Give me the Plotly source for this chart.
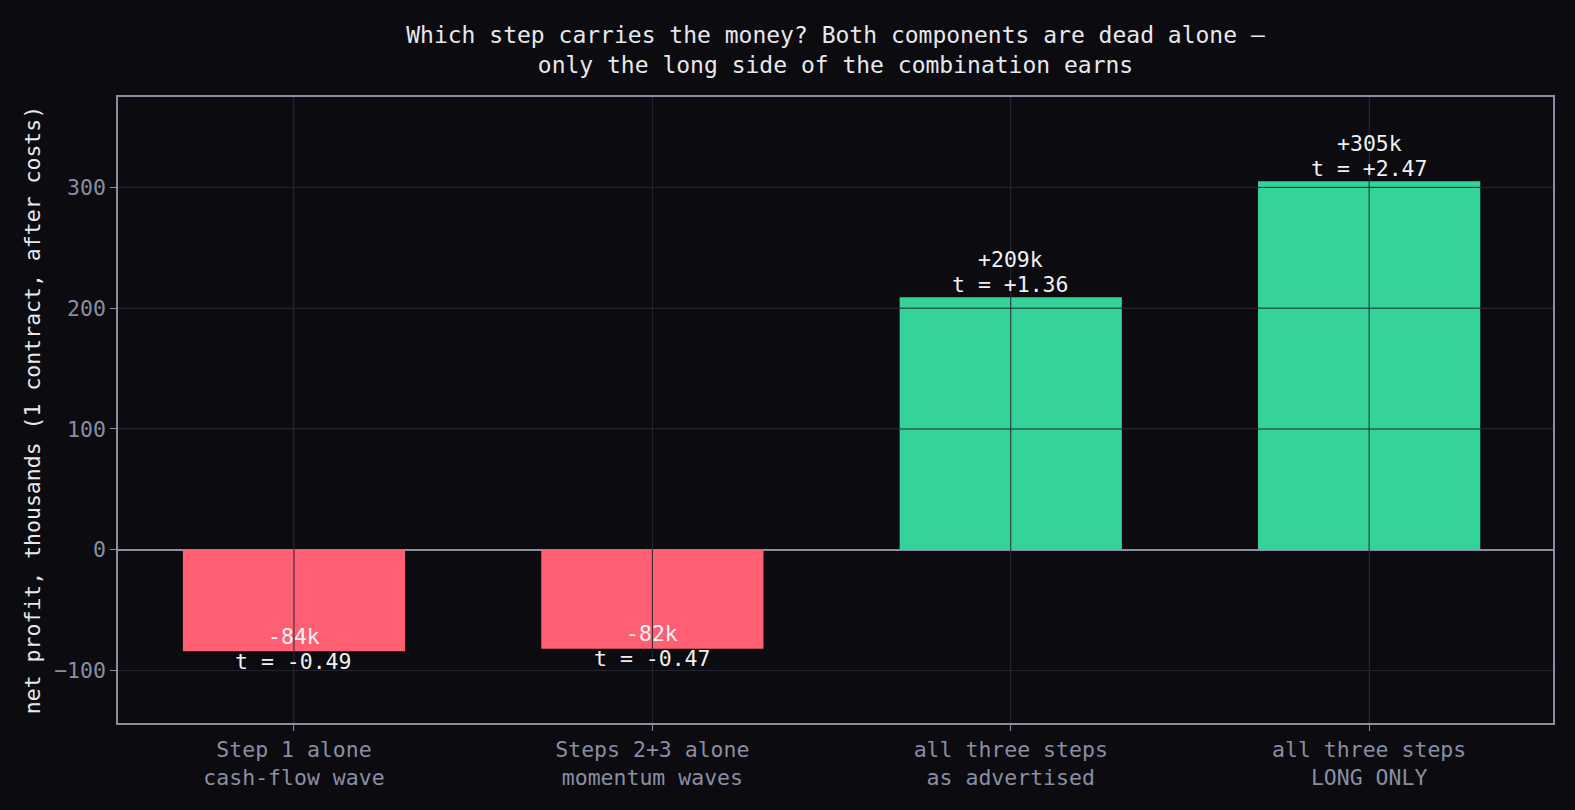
import plotly.graph_objects as go

# bar categories (two-line tick labels)
categories = [
    "Step 1 alone<br>cash-flow wave",
    "Steps 2+3 alone<br>momentum waves",
    "all three steps<br>as advertised",
    "all three steps<br>LONG ONLY",
]
net_profit_k = [-84, -82, 209, 305]
t_stats = [-0.49, -0.47, 1.36, 2.47]
y_ticks = [-100, 0, 100, 200, 300]

BG = "#0b0b10"
AXIS = "#8a8ea3"
GRID = "#23242e"
RED = "#fe5f73"
GREEN = "#34d399"
LABEL = "#f0f0f2"
FONT = "DejaVu Sans Mono"
FS = 21.5

xs = list(range(len(categories)))
colors = [GREEN if v > 0 else RED for v in net_profit_k]

fig = go.Figure(go.Bar(
    x=xs,
    y=net_profit_k,
    width=0.62,
    marker=dict(color=colors, line=dict(width=0)),
    hoverinfo="skip",
))

# grid drawn on top of the bars (matplotlib style)
for yt in y_ticks:
    if yt != 0:
        fig.add_hline(y=yt, layer="above", line=dict(color=GRID, width=1))
for xv in xs:
    fig.add_vline(x=xv, layer="above", line=dict(color=GRID, width=1))

# value + t-stat labels, one line each
for i, (v, t) in enumerate(zip(net_profit_k, t_stats)):
    if v >= 0:
        shifts = (38, 13)
    else:
        shifts = (15, -10)
    fig.add_annotation(x=i, y=v, text=f"{v:+d}k", showarrow=False,
                       yanchor="middle", yshift=shifts[0])
    fig.add_annotation(x=i, y=v, text=f"t = {t:+.2f}", showarrow=False,
                       yanchor="middle", yshift=shifts[1])
fig.update_annotations(font=dict(family=FONT, size=FS, color=LABEL))

fig.update_layout(
    width=1575, height=810,
    paper_bgcolor=BG, plot_bgcolor=BG,
    margin=dict(l=118, r=22, t=97, b=87),
    showlegend=False,
    font=dict(family=FONT, color=AXIS, size=FS),
    title=dict(
        text="Which step carries the money? Both components are dead alone —<br>only the long side of the combination earns",
        x=(118 + (1575 - 22 - 118) / 2) / 1575, xanchor="center",
        y=0.947, yanchor="top",
        font=dict(family=FONT, size=23, color="#e8e8ec"),
    ),
    xaxis=dict(
        tickmode="array",
        tickvals=xs,
        ticktext=categories,
        range=[-0.491, 3.513],
        showgrid=True, gridcolor=GRID, gridwidth=1,
        showline=True, linecolor=AXIS, linewidth=1.5, mirror=True,
        ticks="outside", ticklen=6, tickcolor=AXIS,
        tickfont=dict(family=FONT, size=FS, color=AXIS),
        zeroline=False,
    ),
    yaxis=dict(
        range=[-143.4, 374.8],
        tickvals=y_ticks,
        showgrid=True, gridcolor=GRID, gridwidth=1,
        showline=True, linecolor=AXIS, linewidth=1.5, mirror=True,
        ticks="outside", ticklen=6, tickcolor=AXIS,
        tickfont=dict(family=FONT, size=FS, color=AXIS),
        zeroline=True, zerolinecolor=AXIS, zerolinewidth=1.5,
        title=dict(text="net profit, thousands (1 contract, after costs)",
                   font=dict(family=FONT, size=FS, color="#e8e8ec"),
                   standoff=8),
    ),
)

fig.write_html(
    "out.html",
    config={"displayModeBar": False},
    post_script="document.body.style.margin='0';"
                "document.body.style.background='" + BG + "';",
)
